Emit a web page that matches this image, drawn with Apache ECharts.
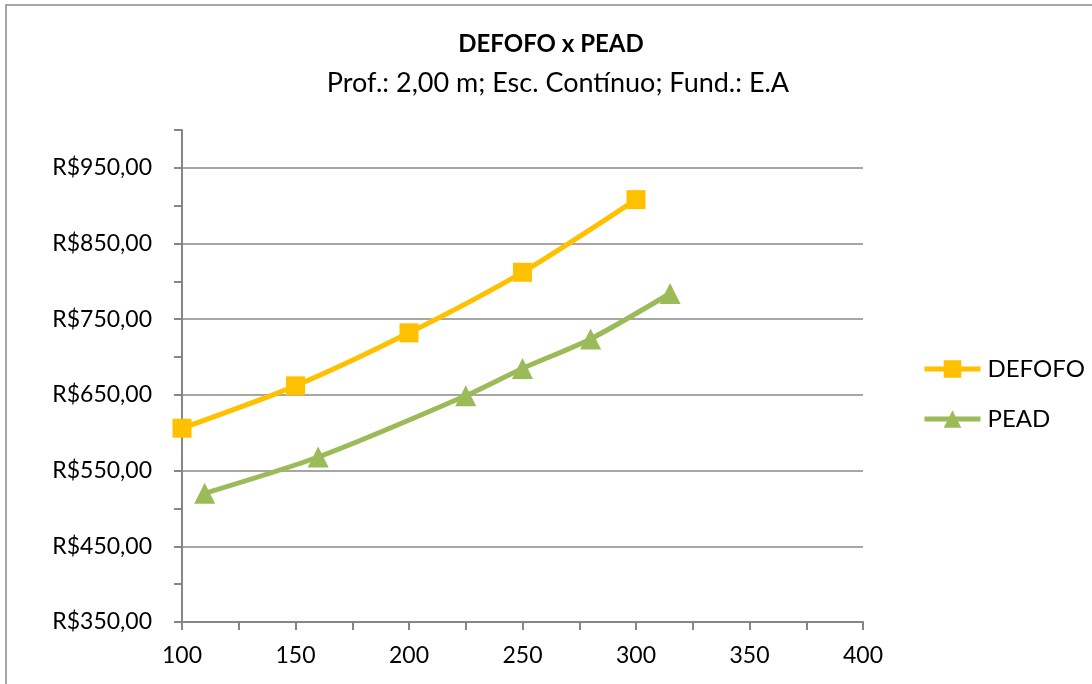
<!DOCTYPE html>
<html>
<head>
<meta charset="utf-8">
<script src="https://cdn.jsdelivr.net/npm/echarts@6/dist/echarts.min.js"></script>
<style>
html,body{margin:0;padding:0;background:#fff;}
#chart{width:1092px;height:684px;}
</style>
</head>
<body>
<div id="chart"></div>
<script>
const titleText = 'DEFOFO x PEAD';
const subtitleText = 'Prof.: 2,00 m; Esc. Contínuo; Fund.: E.A';
const seriesNames = ['DEFOFO', 'PEAD'];
const defofoX = [100, 150, 200, 250, 300];
const defofoY = [606, 662, 732, 812, 908];
const peadX = [110, 160, 225, 250, 280, 315];
const peadY = [520, 568, 649, 685, 724, 784];
const xMin = 100, xMax = 400, xTickStep = 25, xLabelStep = 50;
const yMin = 350, yMax = 1000, yTickStep = 50, yLabelStep = 100;

const FONT = 'Lato';
const chart = echarts.init(document.getElementById('chart'));
const pairs = (xs, ys) => xs.map((x, i) => [x, ys[i]]);

chart.setOption({
  backgroundColor: '#fff',
  animation: false,
  textStyle: { fontFamily: FONT, color: '#000' },
  graphic: [{
    type: 'rect', silent: true, z: -1,
    shape: { x: 6, y: 5, width: 1200, height: 800 },
    style: { fill: 'none', stroke: '#898989', lineWidth: 1.5 }
  }],
  title: [{
    text: titleText, left: 546, top: 27, textAlign: 'center',
    textStyle: { fontFamily: FONT, fontWeight: 'bold', fontSize: 24, color: '#000' }
  }, {
    text: subtitleText, left: 553, top: 65, textAlign: 'center',
    textStyle: { fontFamily: FONT, fontWeight: 'normal', fontSize: 27, color: '#000' }
  }],
  legend: {
    orient: 'vertical', left: 922, top: 357, padding: 0,
    itemWidth: 56, itemHeight: 22, itemGap: 26,
    lineStyle: { width: 5 },
    textStyle: { fontFamily: FONT, fontSize: 24, color: '#000', padding: [0, 0, 0, 2] },
    data: seriesNames
  },
  grid: { left: 182, right: 229, top: 130, bottom: 62, containLabel: false },
  xAxis: {
    type: 'value', min: xMin, max: xMax, interval: xTickStep,
    axisLine: { show: true, lineStyle: { color: '#868686', width: 2 } },
    axisTick: { show: true, inside: false, length: 8, lineStyle: { color: '#868686', width: 2 } },
    axisLabel: {
      margin: 22, fontFamily: FONT, fontSize: 23, color: '#000',
      formatter: v => ((v - xMin) % xLabelStep === 0 ? String(v) : '')
    },
    splitLine: { show: false }
  },
  yAxis: {
    type: 'value', min: yMin, max: yMax, interval: yTickStep,
    axisLine: { show: true, lineStyle: { color: '#868686', width: 2 } },
    axisTick: { show: true, inside: false, length: 8, lineStyle: { color: '#868686', width: 2 } },
    axisLabel: {
      margin: 30, fontFamily: FONT, fontSize: 23, color: '#000',
      formatter: v => ((v - yMin) % yLabelStep === 0 && v < yMax ? 'R$' + v + ',00' : '')
    },
    splitLine: { show: true, lineStyle: { color: ['#888888', 'rgba(0,0,0,0)'], width: 1.5 } }
  },
  series: [{
    name: seriesNames[0], type: 'line', smooth: 0.25,
    data: pairs(defofoX, defofoY),
    symbol: 'rect', symbolSize: 19,
    lineStyle: { color: '#FFC000', width: 5 },
    itemStyle: { color: '#FFC000' }
  }, {
    name: seriesNames[1], type: 'line', smooth: 0.25,
    data: pairs(peadX, peadY),
    symbol: 'triangle', symbolSize: 21,
    lineStyle: { color: '#9BBB59', width: 5 },
    itemStyle: { color: '#9BBB59' }
  }]
});
</script>
</body>
</html>
